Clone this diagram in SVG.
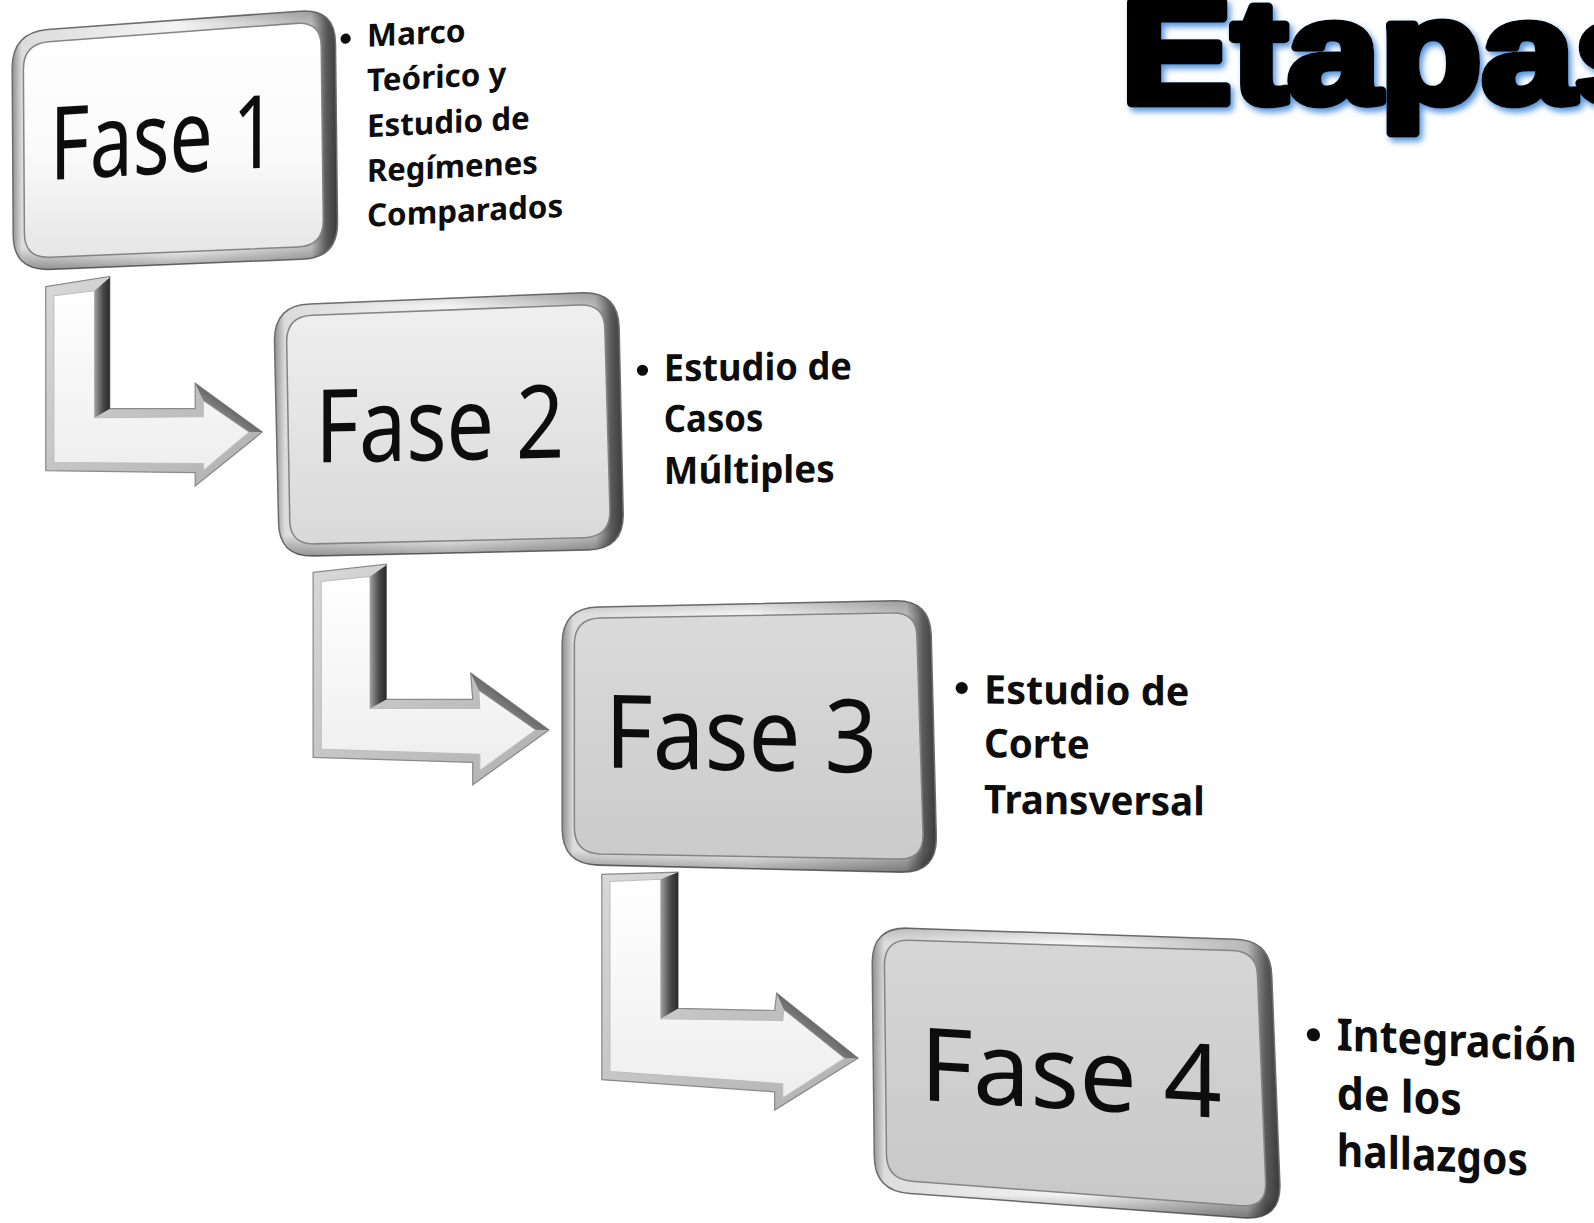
<svg xmlns="http://www.w3.org/2000/svg" width="1594" height="1223" viewBox="0 0 1594 1223">
<defs>
<style>
.fase{font-family:"Noto Sans","Open Sans",sans-serif;font-size:100px;fill:#0d0d0d}
.note{font-family:"Noto Sans","Open Sans",sans-serif;font-weight:bold;fill:#0d0d0d}
.rim{fill:url(#rimH);stroke:#6e6e6e;stroke-width:1.5}
.rimshade{fill:url(#rimV)}
.face{stroke:#858585;stroke-width:1.5}
.aout{fill:url(#arrowRim);stroke:#8a8a8a;stroke-width:1.2}
.ain{fill:url(#arrowFace);stroke:#bdbdbd;stroke-width:1}
.adark{fill:url(#arrowDark)}
.ahead{fill:url(#headDark)}
</style>
<linearGradient id="rimH" x1="0" y1="0" x2="1" y2="0">
<stop offset="0" stop-color="#8f8f8f"/>
<stop offset="0.03" stop-color="#dcdcdc"/>
<stop offset="0.5" stop-color="#f4f4f4"/>
<stop offset="0.92" stop-color="#b8b8b8"/>
<stop offset="0.965" stop-color="#5a5a5a"/>
<stop offset="1" stop-color="#3a3a3a"/>
</linearGradient>
<linearGradient id="rimV" x1="0" y1="0" x2="0" y2="1">
<stop offset="0" stop-color="#000" stop-opacity="0.15"/>
<stop offset="0.05" stop-color="#000" stop-opacity="0"/>
<stop offset="0.92" stop-color="#000" stop-opacity="0"/>
<stop offset="1" stop-color="#000" stop-opacity="0.35"/>
</linearGradient>
<linearGradient id="face1" x1="0" y1="0" x2="0" y2="1">
<stop offset="0" stop-color="#ffffff"/>
<stop offset="0.55" stop-color="#fafafa"/>
<stop offset="1" stop-color="#e6e6e6"/>
</linearGradient>
<linearGradient id="face2" x1="0" y1="0" x2="0" y2="1">
<stop offset="0" stop-color="#efefef"/>
<stop offset="1" stop-color="#d9d9d9"/>
</linearGradient>
<linearGradient id="face3" x1="0" y1="0" x2="0" y2="1">
<stop offset="0" stop-color="#dadada"/>
<stop offset="1" stop-color="#cbcbcb"/>
</linearGradient>
<linearGradient id="face4" x1="0" y1="0" x2="0" y2="1">
<stop offset="0" stop-color="#d6d6d6"/>
<stop offset="1" stop-color="#c8c8c8"/>
</linearGradient>
<linearGradient id="arrowRim" x1="0" y1="0" x2="1" y2="1">
<stop offset="0" stop-color="#d8d8d8"/>
<stop offset="1" stop-color="#b0b0b0"/>
</linearGradient>
<linearGradient id="arrowFace" x1="0" y1="0" x2="0" y2="1">
<stop offset="0" stop-color="#ffffff"/>
<stop offset="1" stop-color="#eeeeee"/>
</linearGradient>
<linearGradient id="arrowDark" x1="0" y1="0" x2="1" y2="0">
<stop offset="0" stop-color="#a0a0a0"/>
<stop offset="0.55" stop-color="#4a4a4a"/>
<stop offset="1" stop-color="#2a2a2a"/>
</linearGradient>
<linearGradient id="headDark" x1="0" y1="1" x2="1" y2="0">
<stop offset="0" stop-color="#d0d0d0"/>
<stop offset="0.6" stop-color="#555555"/>
<stop offset="1" stop-color="#1e1e1e"/>
</linearGradient>
<filter id="glow" x="-10%" y="-20%" width="130%" height="150%">
<feDropShadow dx="3" dy="4" stdDeviation="3" flood-color="#3f86d6" flood-opacity="0.9"/>
</filter>
</defs>
<rect width="1594" height="1223" fill="#ffffff"/>
<g transform="scale(1.0166)">
<g id="connectors">
<g id="arrow1">
<polygon class="aout" points="45,282 108,272 108,402 192,402 192,377 258,425 192,478 192,465 45,463"/>
<polygon class="ain" points="53,291 93,286 93,411 200,410 200,394 245,425 200,463 200,456 53,455"/>
<polygon class="adark" points="93,286 108,273 108,402 93,411"/>
<polygon class="ahead" points="192,377 258,425 245,425 200,394"/>
</g>
<g id="arrow2">
<polygon class="aout" points="308,563 380,555 380,688 465,688 463,662 540,718 465,772 465,750 308,745"/>
<polygon class="ain" points="316,572 364,567 364,697 472,697 471,679 527,718 472,758 472,742 316,737"/>
<polygon class="adark" points="364,567 380,556 380,688 364,697"/>
<polygon class="ahead" points="463,662 540,718 527,718 471,679"/>
</g>
<g id="arrow3">
<polygon class="aout" points="592,860 667,858 667,992 762,994 764,977 844,1041 762,1092 762,1074 592,1062"/>
<polygon class="ain" points="600,867 650,865 650,1002 770,1004 771,993 831,1041 770,1080 770,1066 600,1054"/>
<polygon class="adark" points="650,865 667,858 667,992 650,1002"/>
<polygon class="ahead" points="764,977 844,1041 831,1041 771,993"/>
</g>
</g>
<g id="fase1">
<path class="rim" d="M47,29 L295,11 Q330,8 330,43 L332,219 Q332,254 297,255 L48,265 Q13,266 13,231 L12,67 Q12,32 47,29 Z"/>
<path class="rimshade" d="M47,29 L295,11 Q330,8 330,43 L332,219 Q332,254 297,255 L48,265 Q13,266 13,231 L12,67 Q12,32 47,29 Z"/>
<path class="face" fill="url(#face1)" d="M48,41 L291,23 Q316,21 316,46 L318,217 Q318,242 293,243 L49,253 Q24,254 24,229 L23,68 Q23,43 48,41 Z"/>
<text class="fase" transform="matrix(1,-0.057,0,1,49,177)" textLength="223" lengthAdjust="spacingAndGlyphs">Fase 1</text>
<g transform="matrix(1,-0.05,0,1,361,0)">
<circle cx="-21" cy="37" r="5" fill="#0d0d0d"/>
<text class="note" font-size="31" y="46" textLength="97" lengthAdjust="spacingAndGlyphs">Marco</text>
<text class="note" font-size="31" y="90" textLength="137" lengthAdjust="spacingAndGlyphs">Teórico y</text>
<text class="note" font-size="31" y="135" textLength="160" lengthAdjust="spacingAndGlyphs">Estudio de</text>
<text class="note" font-size="31" y="179" textLength="168" lengthAdjust="spacingAndGlyphs">Regímenes</text>
<text class="note" font-size="31" y="223" textLength="193" lengthAdjust="spacingAndGlyphs">Comparados</text>
</g>
</g>
<g id="fase2">
<path class="rim" d="M305,299 L573,288 Q608,287 609,322 L613,505 Q614,540 579,541 L309,547 Q274,548 274,513 L270,335 Q270,300 305,299 Z"/>
<path class="rimshade" d="M305,299 L573,288 Q608,287 609,322 L613,505 Q614,540 579,541 L309,547 Q274,548 274,513 L270,335 Q270,300 305,299 Z"/>
<path class="face" fill="url(#face2)" d="M307,310 L570,300 Q595,299 595,324 L600,503 Q600,528 575,529 L310,535 Q285,536 285,511 L282,336 Q282,311 307,310 Z"/>
<text class="fase" transform="matrix(1,-0.02,0,1,310,455)" textLength="245" lengthAdjust="spacingAndGlyphs">Fase 2</text>
<g transform="matrix(1,-0.01,0,1,653,0)">
<circle cx="-21" cy="364" r="5.5" fill="#0d0d0d"/>
<text class="note" font-size="37" y="375" textLength="185" lengthAdjust="spacingAndGlyphs">Estudio de</text>
<text class="note" font-size="37" y="425" textLength="98" lengthAdjust="spacingAndGlyphs">Casos</text>
<text class="note" font-size="37" y="476" textLength="168" lengthAdjust="spacingAndGlyphs">Múltiples</text>
</g>
</g>
<g id="fase3">
<path class="rim" d="M588,597 L880,591 Q915,590 916,625 L921,823 Q922,858 887,858 L588,851 Q553,850 553,815 L553,633 Q553,598 588,597 Z"/>
<path class="rimshade" d="M588,597 L880,591 Q915,590 916,625 L921,823 Q922,858 887,858 L588,851 Q553,850 553,815 L553,633 Q553,598 588,597 Z"/>
<path class="face" fill="url(#face3)" d="M590,608 L877,603 Q902,602 902,627 L908,821 Q908,846 883,845 L590,840 Q565,839 565,814 L565,634 Q565,609 590,608 Z"/>
<text class="fase" font-size="102" transform="matrix(1,0.019,0,1,595,755)" textLength="268" lengthAdjust="spacingAndGlyphs">Fase 3</text>
<g transform="matrix(1,0.01,0,1,968,0)">
<circle cx="-22" cy="677" r="6" fill="#0d0d0d"/>
<text class="note" font-size="39" y="692" textLength="202" lengthAdjust="spacingAndGlyphs">Estudio de</text>
<text class="note" font-size="39" y="745" textLength="104" lengthAdjust="spacingAndGlyphs">Corte</text>
<text class="note" font-size="39" y="800" textLength="217" lengthAdjust="spacingAndGlyphs">Transversal</text>
</g>
</g>
<g id="fase4">
<path class="rim" d="M893,913 L1215,924 Q1250,925 1251,960 L1259,1165 Q1260,1200 1225,1198 L895,1174 Q860,1172 860,1137 L858,947 Q858,912 893,913 Z"/>
<path class="rimshade" d="M893,913 L1215,924 Q1250,925 1251,960 L1259,1165 Q1260,1200 1225,1198 L895,1174 Q860,1172 860,1137 L858,947 Q858,912 893,913 Z"/>
<path class="face" fill="url(#face4)" d="M895,925 L1212,935 Q1237,936 1237,961 L1245,1163 Q1246,1188 1221,1186 L897,1162 Q872,1160 872,1135 L870,949 Q870,924 895,925 Z"/>
<text class="fase" font-size="110" transform="matrix(1,0.06,0,1,905,1082)" textLength="297" lengthAdjust="spacingAndGlyphs">Fase 4</text>
<g transform="matrix(1,0.05,0,1,1315,0)">
<circle cx="-23" cy="1019" r="6.5" fill="#0d0d0d"/>
<text class="note" font-size="44" y="1033" textLength="236" lengthAdjust="spacingAndGlyphs">Integración</text>
<text class="note" font-size="44" y="1091" textLength="123" lengthAdjust="spacingAndGlyphs">de los</text>
<text class="note" font-size="44" y="1147" textLength="188" lengthAdjust="spacingAndGlyphs">hallazgos</text>
</g>
</g>
</g>
<g id="title">
<text x="1121" y="103" font-family="Liberation Sans, Arial, sans-serif" font-weight="bold" font-size="146" textLength="546" lengthAdjust="spacingAndGlyphs" fill="#000" stroke="#000" stroke-width="9" stroke-linejoin="round" filter="url(#glow)">Etapas</text>
</g>
</svg>
